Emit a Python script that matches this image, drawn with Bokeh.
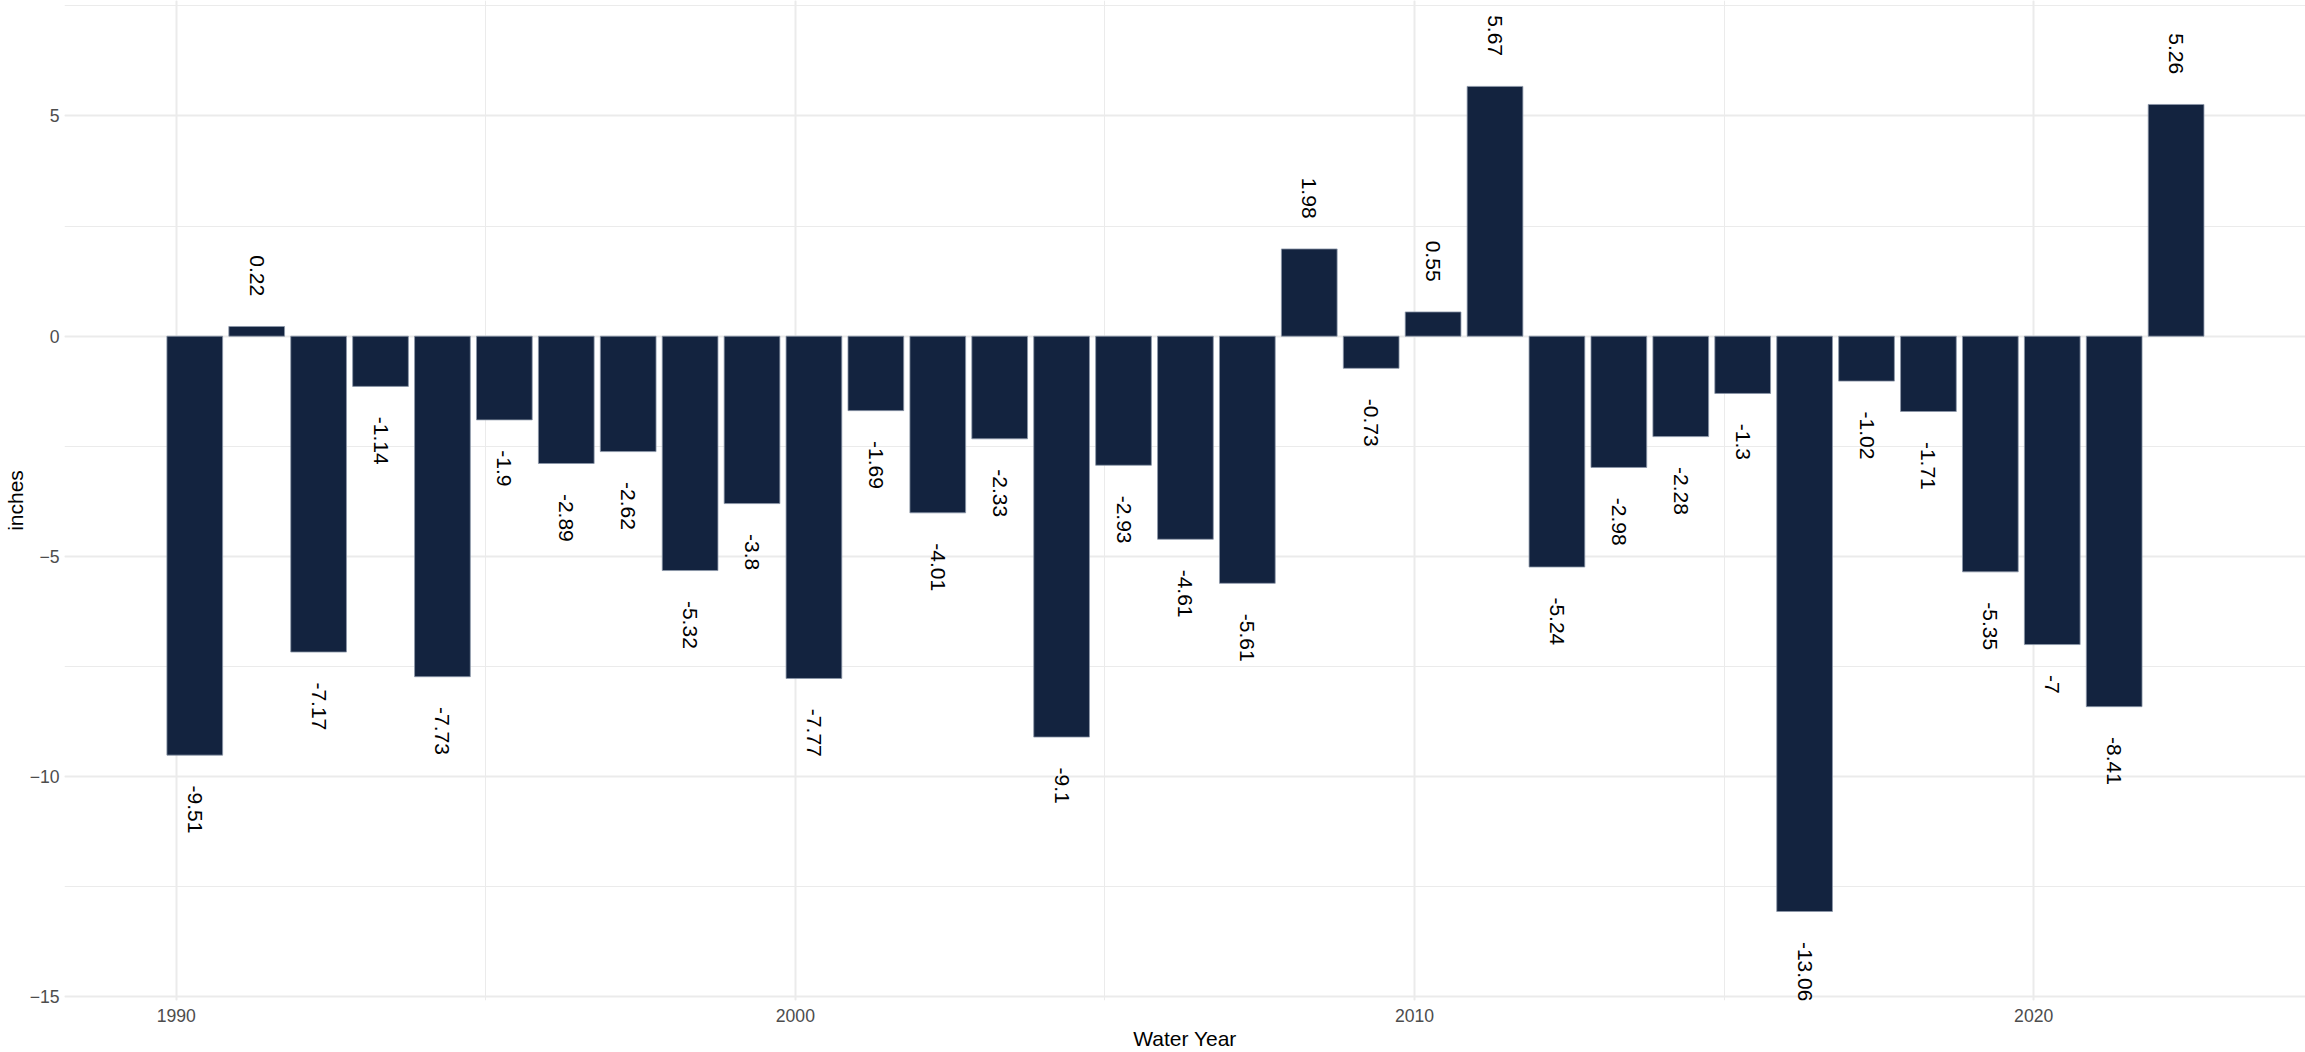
import math
from bokeh.plotting import figure
from bokeh.models import ColumnDataSource, SingleIntervalTicker, Range1d
from bokeh.embed import file_html
from bokeh.resources import INLINE
from bokeh.core.properties import value

# ---- data ----
water_years = list(range(1990, 2023))
departure_inches = [
    -9.51, 0.22, -7.17, -1.14, -7.73, -1.9, -2.89, -2.62, -5.32, -3.8,
    -7.77, -1.69, -4.01, -2.33, -9.1, -2.93, -4.61, -5.61, 1.98, -0.73,
    0.55, 5.67, -5.24, -2.98, -2.28, -1.3, -13.06, -1.02, -1.71, -5.35,
    -7, -8.41, 5.26,
]
x_ticks = [1990, 2000, 2010, 2020]
y_ticks = [-15, -10, -5, 0, 5]

# ---- styling / layout ----
BAR_SHIFT = 0.3
LABEL_GAP = 0.69
FONT = "Liberation Sans"
GRID = "#EBEBEB"

xs = [y + BAR_SHIFT for y in water_years]
labels = ["{:g}".format(v) for v in departure_inches]

pos = dict(x=[], y=[], t=[])
neg = dict(x=[], y=[], t=[])
for x, v, t in zip(xs, departure_inches, labels):
    d = pos if v >= 0 else neg
    d["x"].append(x)
    d["y"].append(v + LABEL_GAP if v >= 0 else v - LABEL_GAP)
    d["t"].append(t)

p = figure(
    width=2305, height=1052,
    x_range=Range1d(1988.196, 2024.39),
    y_range=Range1d(-15.08, 7.62),
    output_backend="svg", toolbar_location=None,
    min_border_left=0, min_border_right=0, min_border_top=0, min_border_bottom=0,
)
p.outline_line_color = None
p.background_fill_color = "white"
p.border_fill_color = "white"

bars = ColumnDataSource(dict(x=xs, top=departure_inches))
p.vbar(x="x", top="top", bottom=0, width=0.9, source=bars,
       fill_color="#13233F", line_color="#8C97A8", line_width=0.8)

for d, align in ((pos, "right"), (neg, "left")):
    p.text(x=d["x"], y=d["y"], text=d["t"], angle=-math.pi / 2,
           text_align=align, text_baseline="middle",
           text_font=value(FONT), text_font_size="21px", text_color="black")

p.xaxis.ticker = SingleIntervalTicker(interval=10, num_minor_ticks=2)
p.yaxis.ticker = SingleIntervalTicker(interval=5, num_minor_ticks=2)

for ax in (p.xaxis, p.yaxis):
    ax.axis_line_color = None
    ax.major_tick_line_color = None
    ax.minor_tick_line_color = None
    ax.major_tick_out = 0
    ax.minor_tick_out = 0
    ax.major_label_text_font = FONT
    ax.major_label_text_font_size = "17.6px"
    ax.major_label_text_color = "#4D4D4D"
    ax.axis_label_text_font = FONT
    ax.axis_label_text_font_size = "21px"
    ax.axis_label_text_font_style = "normal"
    ax.axis_label_text_color = "black"

p.xaxis.axis_label = "Water Year"
p.yaxis.axis_label = "inches"
p.xaxis.major_label_standoff = 8
p.xaxis.axis_label_standoff = 2
p.yaxis.major_label_standoff = 5
p.yaxis.axis_label_standoff = 0

for g in (p.xgrid, p.ygrid):
    g.grid_line_color = GRID
    g.grid_line_width = 2
    g.minor_grid_line_color = GRID
    g.minor_grid_line_width = 1

open("out.html", "w").write(file_html(p, INLINE))
